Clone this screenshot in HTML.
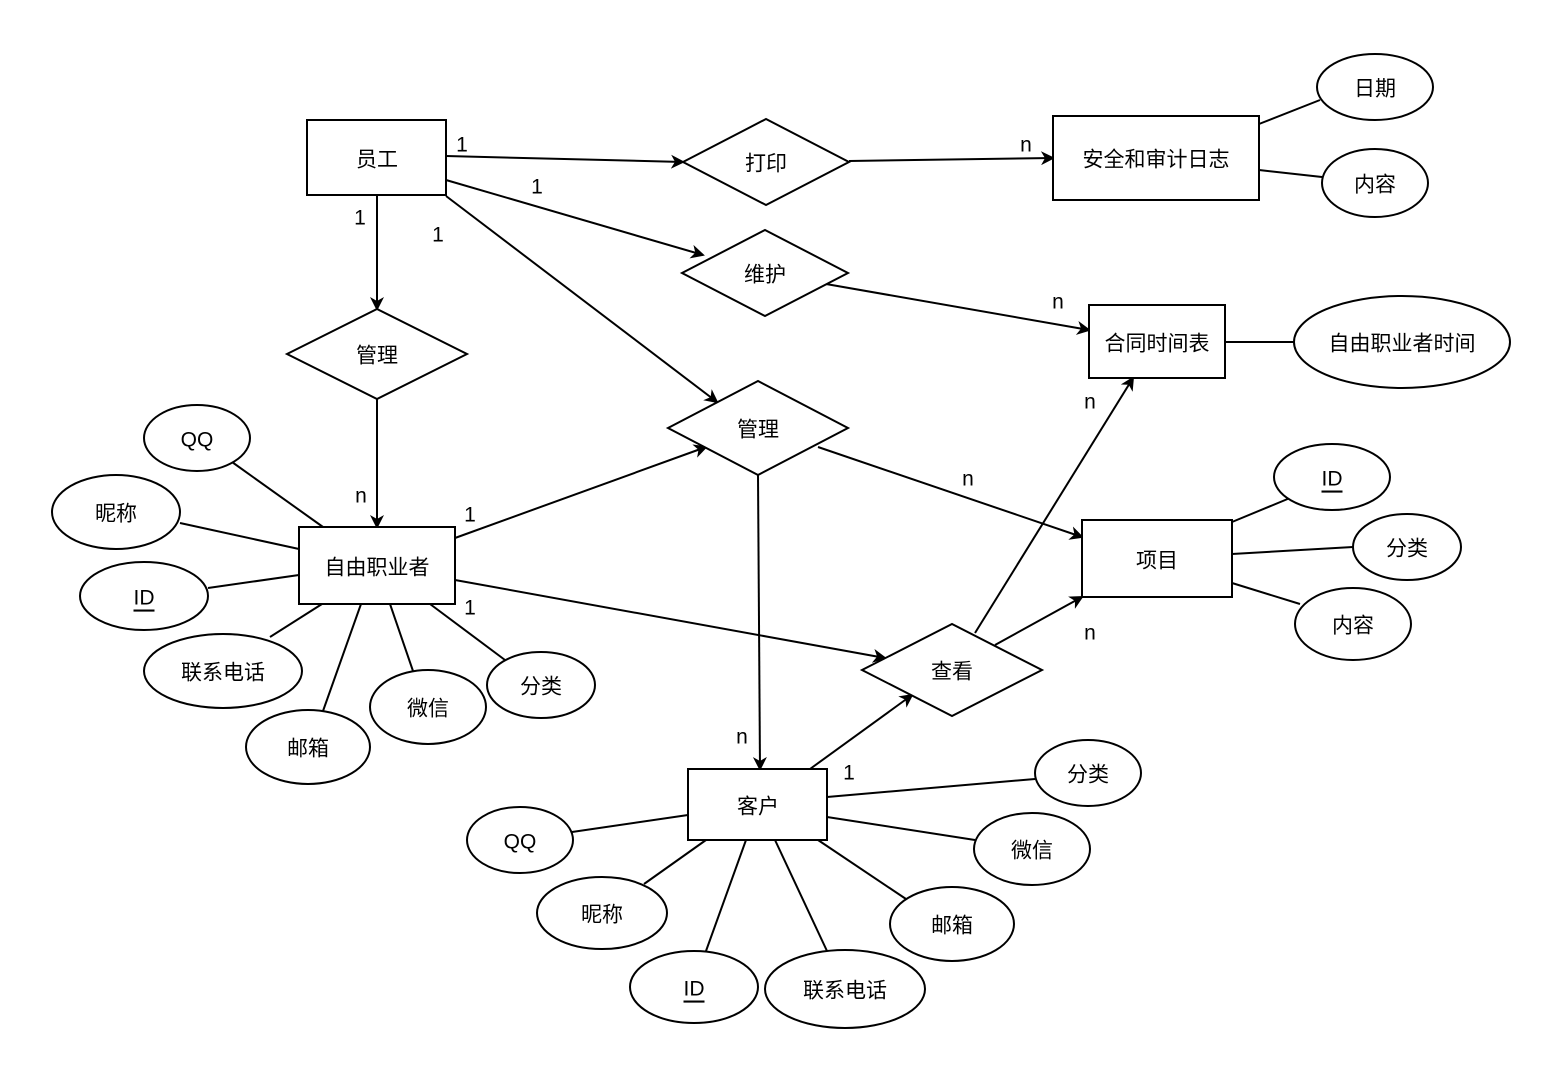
<!DOCTYPE html>
<html><head><meta charset="utf-8"><style>
html,body{margin:0;padding:0;background:#fff;}
text{font-family:"Liberation Sans","Noto Sans CJK SC",sans-serif;font-size:21px;fill:#000;}
</style></head><body>
<svg width="1562" height="1078" viewBox="0 0 1562 1078" xmlns="http://www.w3.org/2000/svg">
<defs><marker id="a" markerWidth="14" markerHeight="14" refX="12" refY="7" orient="auto" markerUnits="userSpaceOnUse"><path d="M0,0 L14,7 L0,14 L4,7 Z" fill="#000"/></marker></defs>
<g stroke="#000" stroke-width="2" fill="none">
<line x1="446" y1="156" x2="683" y2="162" marker-end="url(#a)"/>
<line x1="849" y1="161" x2="1053" y2="158" marker-end="url(#a)"/>
<line x1="446" y1="180" x2="703" y2="255" marker-end="url(#a)"/>
<line x1="826" y1="284" x2="1089" y2="330" marker-end="url(#a)"/>
<line x1="377" y1="195" x2="377" y2="309" marker-end="url(#a)"/>
<line x1="446" y1="196" x2="717" y2="402" marker-end="url(#a)"/>
<line x1="377" y1="399" x2="377" y2="527" marker-end="url(#a)"/>
<line x1="455" y1="538" x2="706" y2="447" marker-end="url(#a)"/>
<line x1="818" y1="447" x2="1082" y2="537" marker-end="url(#a)"/>
<line x1="758" y1="475" x2="760" y2="769" marker-end="url(#a)"/>
<line x1="455" y1="580" x2="885" y2="658" marker-end="url(#a)"/>
<line x1="975" y1="633" x2="1133" y2="378" marker-end="url(#a)"/>
<line x1="995" y1="645" x2="1082" y2="597" marker-end="url(#a)"/>
<line x1="810" y1="769" x2="912" y2="695" marker-end="url(#a)"/>
<line x1="1259" y1="124" x2="1320" y2="100"/>
<line x1="1259" y1="170" x2="1322" y2="177"/>
<line x1="1225" y1="342" x2="1294" y2="342"/>
<line x1="1232" y1="522" x2="1290" y2="498"/>
<line x1="1232" y1="554" x2="1353" y2="547"/>
<line x1="1232" y1="583" x2="1300" y2="604"/>
<line x1="232" y1="462" x2="323" y2="527"/>
<line x1="180" y1="523" x2="299" y2="549"/>
<line x1="208" y1="588" x2="299" y2="575"/>
<line x1="270" y1="637" x2="322" y2="604"/>
<line x1="323" y1="711" x2="361" y2="604"/>
<line x1="413" y1="671" x2="390" y2="604"/>
<line x1="505" y1="660" x2="430" y2="604"/>
<line x1="572" y1="832" x2="688" y2="815"/>
<line x1="644" y1="884" x2="706" y2="840"/>
<line x1="706" y1="951" x2="746" y2="840"/>
<line x1="827" y1="951" x2="775" y2="840"/>
<line x1="906" y1="899" x2="818" y2="840"/>
<line x1="975" y1="840" x2="827" y2="817"/>
<line x1="1035" y1="779" x2="827" y2="797"/>
</g>
<g stroke="#000" stroke-width="2" fill="#fff">
<rect x="307" y="120" width="139" height="75"/>
<rect x="1053" y="116" width="206" height="84"/>
<rect x="1089" y="305" width="136" height="73"/>
<rect x="1082" y="520" width="150" height="77"/>
<rect x="299" y="527" width="156" height="77"/>
<rect x="688" y="769" width="139" height="71"/>
<polygon points="683,162 766,119 849,162 766,205"/>
<polygon points="682,273 765,230 848,273 765,316"/>
<polygon points="287,354 377,309 467,354 377,399"/>
<polygon points="668,428 758,381 848,428 758,475"/>
<polygon points="862,670 952,624 1042,670 952,716"/>
<ellipse cx="1375" cy="87" rx="58" ry="33"/>
<ellipse cx="1375" cy="183" rx="53" ry="34"/>
<ellipse cx="1402" cy="342" rx="108" ry="46"/>
<ellipse cx="1332" cy="477" rx="58" ry="33"/>
<ellipse cx="1407" cy="547" rx="54" ry="33"/>
<ellipse cx="1353" cy="624" rx="58" ry="36"/>
<ellipse cx="197" cy="438" rx="53" ry="33"/>
<ellipse cx="116" cy="512" rx="64" ry="37"/>
<ellipse cx="144" cy="596" rx="64" ry="34"/>
<ellipse cx="223" cy="671" rx="79" ry="37"/>
<ellipse cx="308" cy="747" rx="62" ry="37"/>
<ellipse cx="428" cy="707" rx="58" ry="37"/>
<ellipse cx="541" cy="685" rx="54" ry="33"/>
<ellipse cx="520" cy="840" rx="53" ry="33"/>
<ellipse cx="602" cy="913" rx="65" ry="36"/>
<ellipse cx="694" cy="987" rx="64" ry="36"/>
<ellipse cx="845" cy="989" rx="80" ry="39"/>
<ellipse cx="952" cy="924" rx="62" ry="37"/>
<ellipse cx="1032" cy="849" rx="58" ry="36"/>
<ellipse cx="1088" cy="773" rx="53" ry="33"/>
</g>
<g text-anchor="middle" dominant-baseline="central" transform="translate(0,2)">
<text x="377" y="158">员工</text>
<text x="1156" y="158">安全和审计日志</text>
<text x="1157" y="342">合同时间表</text>
<text x="1157" y="559">项目</text>
<text x="377" y="566">自由职业者</text>
<text x="758" y="805">客户</text>
<text x="766" y="162">打印</text>
<text x="765" y="273">维护</text>
<text x="377" y="354">管理</text>
<text x="758" y="428">管理</text>
<text x="952" y="670">查看</text>
<text x="1375" y="87">日期</text>
<text x="1375" y="183">内容</text>
<text x="1402" y="342">自由职业者时间</text>
<text x="1332" y="477" text-decoration="underline">ID</text>
<text x="1407" y="547">分类</text>
<text x="1353" y="624">内容</text>
<text x="197" y="438">QQ</text>
<text x="116" y="512">昵称</text>
<text x="144" y="596" text-decoration="underline">ID</text>
<text x="223" y="671">联系电话</text>
<text x="308" y="747">邮箱</text>
<text x="428" y="707">微信</text>
<text x="541" y="685">分类</text>
<text x="520" y="840">QQ</text>
<text x="602" y="913">昵称</text>
<text x="694" y="987" text-decoration="underline">ID</text>
<text x="845" y="989">联系电话</text>
<text x="952" y="924">邮箱</text>
<text x="1032" y="849">微信</text>
<text x="1088" y="773">分类</text>
<text x="462" y="143">1</text>
<text x="1026" y="143">n</text>
<text x="537" y="185">1</text>
<text x="1058" y="300">n</text>
<text x="360" y="216">1</text>
<text x="438" y="233">1</text>
<text x="361" y="494">n</text>
<text x="470" y="513">1</text>
<text x="968" y="477">n</text>
<text x="742" y="735">n</text>
<text x="470" y="606">1</text>
<text x="1090" y="400">n</text>
<text x="1090" y="631">n</text>
<text x="849" y="771">1</text>
</g>
</svg>
</body></html>
